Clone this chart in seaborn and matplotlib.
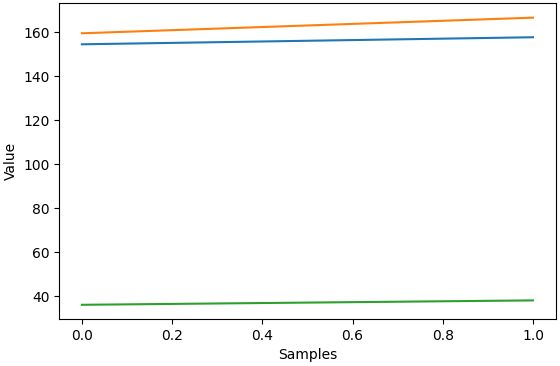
import pandas as pd
import matplotlib
matplotlib.use('Agg')
import matplotlib.pyplot as plt
import seaborn as sns

# Data
samples = [0.0, 1.0]
series_a = [154.5, 157.7]   # blue
series_b = [159.5, 166.6]   # orange
series_c = [36.2, 38.2]     # green

df = pd.DataFrame({
    'Samples': samples * 3,
    'Value': series_a + series_b + series_c,
    'series': ['a'] * 2 + ['b'] * 2 + ['c'] * 2,
})

fig, ax = plt.subplots(figsize=(5.6, 3.66), dpi=100)
sns.lineplot(data=df, x='Samples', y='Value', hue='series',
             palette=['#1f77b4', '#ff7f0e', '#2ca02c'], legend=False, ax=ax)
ax.set_xlabel('Samples')
ax.set_ylabel('Value')
fig.subplots_adjust(left=0.106, right=0.992, top=0.991, bottom=0.128)
plt.savefig('out.png', dpi=100)
